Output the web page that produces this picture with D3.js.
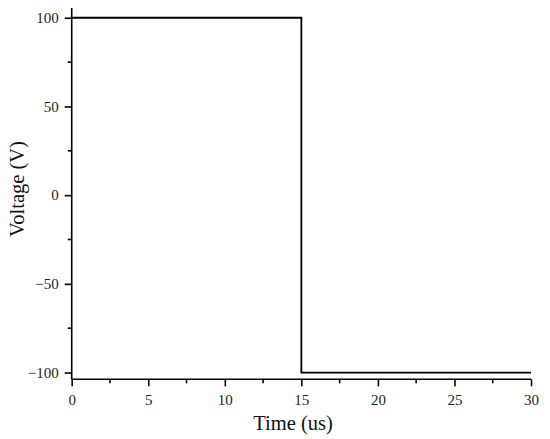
<!DOCTYPE html>
<html>
<head>
<meta charset="utf-8">
<script src="https://cdn.jsdelivr.net/npm/d3@7"></script>
<style>
  body { margin: 0; background: #fff; }
  svg { display: block; }
</style>
</head>
<body>
<svg id="chart" width="550" height="439"></svg>
<script>
// square pulse
var timeUs = [0, 15, 15, 30];
var voltage = [100, 100, -100, -100];

var xTicks = [0, 5, 10, 15, 20, 25, 30];
var xMinor = [2.5, 7.5, 12.5, 17.5, 22.5, 27.5];
var yTicks = [-100, -50, 0, 50, 100];
var yMinor = [-75, -25, 25, 75];

var svg = d3.select("#chart");
var font = "'Liberation Serif', 'DejaVu Serif', serif";

var x = d3.scaleLinear().domain([0, 30]).range([71.7, 531]);
var y = d3.scaleLinear().domain([-103.8, 105.5]).range([379.3, 8]);

// x axis: major + minor ticks
var gx = svg.append("g")
  .attr("transform", "translate(0," + y(-103.8) + ")");
gx.call(d3.axisBottom(x).tickValues(xTicks).tickSize(7).tickPadding(8).tickFormat(d3.format("d")));
gx.append("g").selectAll("line")
  .data(xMinor)
  .enter().append("line")
  .attr("x1", function(d) { return x(d); })
  .attr("x2", function(d) { return x(d); })
  .attr("y1", 0).attr("y2", 4)
  .attr("stroke", "#000").attr("stroke-width", 1.6);

// y axis
var gy = svg.append("g")
  .attr("transform", "translate(" + x(0) + ",0)");
gy.call(d3.axisLeft(y).tickValues(yTicks).tickSize(7).tickPadding(6).tickFormat(d3.format("d")));
gy.append("g").selectAll("line")
  .data(yMinor)
  .enter().append("line")
  .attr("y1", function(d) { return y(d); })
  .attr("y2", function(d) { return y(d); })
  .attr("x1", 0).attr("x2", -4)
  .attr("stroke", "#000").attr("stroke-width", 1.6);

[gx, gy].forEach(function(g) {
  g.select(".domain").attr("stroke", "#000").attr("stroke-width", 1.6);
  g.selectAll(".tick line").attr("stroke", "#000").attr("stroke-width", 1.6);
  g.selectAll(".tick text")
    .attr("fill", "#222")
    .style("font-family", font)
    .style("font-size", "15px");
});
// outer ticks of the domain path are not wanted
gx.select(".domain").attr("d", "M" + x(0) + ",0H" + x(30));
gy.select(".domain").attr("d", "M0," + y(-103.8) + "V" + y(105.5));

// the pulse
var pts = timeUs.map(function(t, i) { return [t, voltage[i]]; });
svg.append("path")
  .datum(pts)
  .attr("fill", "none")
  .attr("stroke", "#000")
  .attr("stroke-width", 1.8)
  .attr("d", d3.line()
    .x(function(d) { return x(d[0]); })
    .y(function(d) { return y(d[1]); }));

// axis titles
svg.append("text")
  .attr("x", 293)
  .attr("y", 430)
  .attr("text-anchor", "middle")
  .style("font-family", font)
  .style("font-size", "20.5px")
  .attr("fill", "#111")
  .text("Time (us)");

svg.append("text")
  .attr("transform", "translate(24,189) rotate(-90)")
  .attr("text-anchor", "middle")
  .style("font-family", font)
  .style("font-size", "20.5px")
  .attr("fill", "#111")
  .text("Voltage (V)");
</script>
</body>
</html>
